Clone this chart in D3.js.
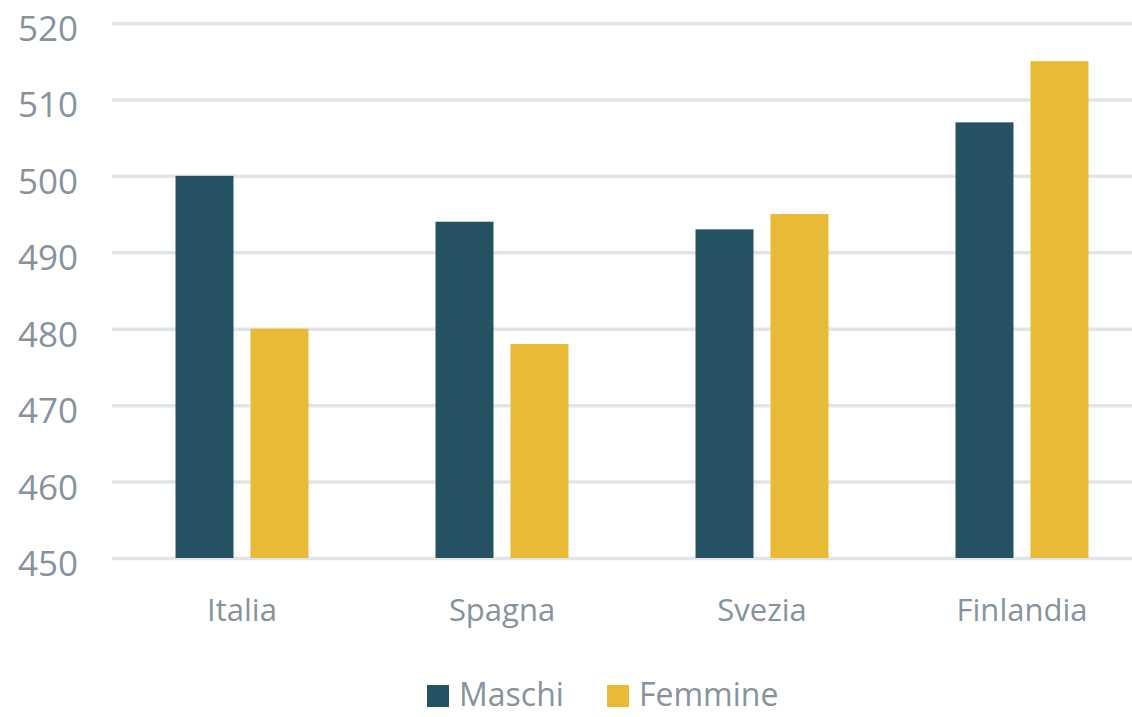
<!DOCTYPE html>
<html>
<head>
<meta charset="utf-8">
<script src="https://cdn.jsdelivr.net/npm/d3@7"></script>
<style>
  body { margin: 0; background: #fff; }
  svg { display: block; }
  svg text { font-family: "Open Sans", "Noto Sans", sans-serif; }
  .grid line { stroke: #e1e4e8; stroke-width: 3.5; }
  .grid path { display: none; }
  .yaxis text { fill: #86939f; font-size: 35px; }
  .xaxis text { fill: #86939f; font-size: 31px; }
  .xaxis path, .xaxis line, .yaxis path, .yaxis line { display: none; }
  .legend text { fill: #86939f; font-size: 32px; }
</style>
</head>
<body>
<svg id="chart" width="1132" height="717"></svg>
<script>
// data
const countries = ['Italia', 'Spagna', 'Svezia', 'Finlandia'];
const series = ['Maschi', 'Femmine'];
const maschi = [500, 494, 493, 507];
const femmine = [480, 478, 495, 515];
const yTicks = [450, 460, 470, 480, 490, 500, 510, 520];
const colors = ['#245262', '#e9ba35'];

const svg = d3.select('#chart');

// scales
let x0 = d3.scaleBand().domain(countries).range([112, 1152]);
let x1 = d3.scaleBand().domain(series)
  .range([0, x0.bandwidth()])
  .paddingInner(0.227)
  .paddingOuter(0.847);
let y = d3.scaleLinear().domain([450, 520]).range([558, 23]);
let color = d3.scaleOrdinal().domain(series).range(colors);

// gridlines
svg.append('g')
  .attr('class', 'grid')
  .attr('transform', 'translate(112,0)')
  .call(d3.axisRight(y).tickValues(yTicks).tickSize(1132 - 112).tickFormat(''));

// y labels
svg.append('g')
  .attr('class', 'yaxis')
  .attr('transform', 'translate(78,0)')
  .call(d3.axisLeft(y).tickValues(yTicks).tickSize(0).tickPadding(0))
  .selectAll('text')
  .attr('dy', '0.5em');

// bars
let rows = countries.map((c, i) => ({country: c, values: [
  {key: 'Maschi', value: maschi[i]},
  {key: 'Femmine', value: femmine[i]}
]}));

svg.append('g')
  .selectAll('g')
  .data(rows)
  .enter()
  .append('g')
  .attr('transform', d => `translate(${x0(d.country)},0)`)
  .selectAll('rect')
  .data(d => d.values)
  .enter()
  .append('rect')
  .attr('x', d => x1(d.key))
  .attr('y', d => y(d.value))
  .attr('width', x1.bandwidth())
  .attr('height', d => y(450) - y(d.value))
  .attr('fill', d => color(d.key));

// x labels
svg.append('g')
  .attr('class', 'xaxis')
  .attr('transform', 'translate(0,558)')
  .call(d3.axisBottom(x0).tickSize(0).tickPadding(0))
  .selectAll('text')
  .attr('dy', 0)
  .attr('y', 63);

// legend
let legendX = [427, 607];
let legend = svg.append('g').attr('class', 'legend');
series.forEach((s, i) => {
  legend.append('rect')
    .attr('x', legendX[i])
    .attr('y', 685)
    .attr('width', 22)
    .attr('height', 22)
    .attr('fill', color(s));
  legend.append('text')
    .attr('x', legendX[i] + 32)
    .attr('y', 706)
    .text(s);
});
</script>
</body>
</html>
